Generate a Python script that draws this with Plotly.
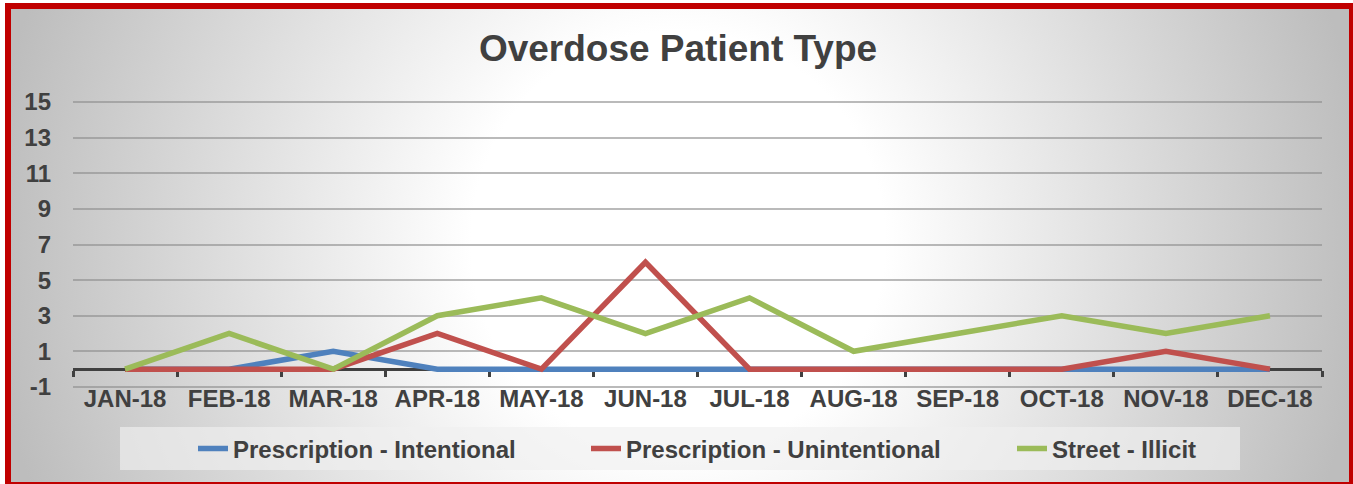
import base64
import plotly.graph_objects as go

months = ["JAN-18", "FEB-18", "MAR-18", "APR-18", "MAY-18", "JUN-18",
          "JUL-18", "AUG-18", "SEP-18", "OCT-18", "NOV-18", "DEC-18"]
rx_intentional = [0, 0, 1, 0, 0, 0, 0, 0, 0, 0, 0, 0]
rx_unintentional = [0, 0, 0, 2, 0, 6, 0, 0, 0, 0, 1, 0]
street_illicit = [0, 2, 0, 3, 4, 2, 4, 1, 2, 3, 2, 3]
y_ticks = [-1, 1, 3, 5, 7, 9, 11, 13, 15]
y_tick_text = ["-1", "1", "3", "5", "7", "9", "11", "13", "15"]

W, H = 1353, 484
L, R, T, B = 73, 31, 101, 96
PW, PH = W - L - R, H - T - B
Y0, Y1 = -1.06, 15.06

FONT = "Liberation Sans, Arial, sans-serif"
TXT = "#404040"

svg = f"""<svg xmlns='http://www.w3.org/2000/svg' width='{W}' height='{H}' viewBox='0 0 {W} {H}' preserveAspectRatio='none'>
<defs><radialGradient id='g' gradientUnits='userSpaceOnUse' cx='678' cy='242' r='690'
 gradientTransform='translate(678 242) scale(1 1.02) translate(-678 -242)'>
<stop offset='0' stop-color='#ffffff'/><stop offset='0.3' stop-color='#ffffff'/>
<stop offset='1' stop-color='#bdbdbd'/></radialGradient></defs>
<rect x='0' y='0' width='{W}' height='{H}' fill='#ffffff'/>
<rect x='8' y='6' width='1344' height='479' fill='url(#g)' stroke='#c00000' stroke-width='6'/>
</svg>"""
bg_uri = "data:image/svg+xml;base64," + base64.b64encode(svg.encode()).decode()


def px_x(p):
    return (p - L) / PW


def px_y(p):
    return (H - B - p) / PH


fig = go.Figure()
# zero axis carrier (category boundary ticks drawn at y = 0)
fig.add_trace(go.Scatter(x=[-0.5, 11.5], y=[None, None], xaxis="x2", mode="lines",
                         showlegend=False, hoverinfo="skip"))
series = [
    ("Prescription - Intentional", rx_intentional, "#4F81BD", "legend", 233),
    ("Prescription - Unintentional", rx_unintentional, "#C0504D", "legend2", 626),
    ("Street - Illicit", street_illicit, "#9BBB59", "legend3", 1052),
]
legends = {}
for name, vals, col, leg, tx in series:
    fig.add_trace(go.Scatter(x=months, y=vals, name=name, mode="lines",
                             line=dict(color=col, width=5.5), legend=leg))
    legends[leg] = dict(orientation="h", x=px_x(tx - 40), xanchor="left",
                        y=px_y(449), yanchor="middle", bgcolor="rgba(0,0,0,0)",
                        borderwidth=0,
                        font=dict(family=FONT, size=24, color=TXT, weight="bold"))

fig.update_layout(
    width=W, height=H,
    margin=dict(l=L, r=R, t=T, b=B, pad=0),
    paper_bgcolor="white",
    plot_bgcolor="rgba(0,0,0,0)",
    font=dict(family=FONT, color=TXT, size=24, weight="bold"),
    title=dict(text="Overdose Patient Type", x=678 / W, xref="container",
               xanchor="center", y=1 - 48 / H, yref="container", yanchor="middle",
               font=dict(family=FONT, size=37, color=TXT, weight="bold")),
    xaxis=dict(type="category", range=[-0.5, 11.5], showgrid=False,
               zeroline=False, showline=False, ticks="",
               ticklabelstandoff=-6,
               tickfont=dict(size=24, color=TXT, weight="bold")),
    xaxis2=dict(overlaying="x", anchor="free", position=(0 - Y0) / (Y1 - Y0),
                side="bottom", range=[-0.5, 11.5], showgrid=False, zeroline=False,
                showline=True, linecolor="#404040", linewidth=3,
                ticks="outside", ticklen=6, tickwidth=3, tickcolor="#404040",
                tickmode="array", tickvals=[i - 0.5 for i in range(13)],
                showticklabels=False, layer="below traces"),
    yaxis=dict(range=[Y0, Y1], tickmode="array", tickvals=y_ticks,
               ticktext=y_tick_text,
               showgrid=True, gridcolor="rgba(140,140,140,0.6)", gridwidth=2,
               zeroline=False, showline=False, ticks="",
               ticklabelstandoff=21,
               tickfont=dict(size=24, color=TXT, weight="bold")),
    showlegend=True,
    images=[dict(source=bg_uri, xref="paper", yref="paper",
                 x=-L / PW, y=1 + T / PH, sizex=W / PW, sizey=H / PH,
                 xanchor="left", yanchor="top", sizing="stretch", layer="below")],
    shapes=[dict(type="rect", xref="paper", yref="paper",
                 x0=px_x(120), x1=px_x(1240), y0=px_y(470), y1=px_y(427),
                 fillcolor="rgba(240,240,240,0.65)", line=dict(width=0),
                 layer="below")],
    **legends,
)

fig.write_html("out.html", config={"displayModeBar": False},
               post_script="document.body.style.margin='0';document.body.style.overflow='hidden';")
